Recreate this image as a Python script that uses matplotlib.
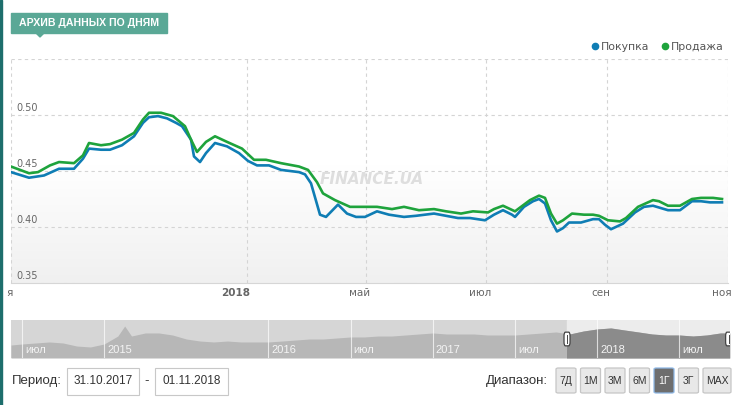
import numpy as np
import matplotlib
matplotlib.use("Agg")
import matplotlib.pyplot as plt
from matplotlib.lines import Line2D
from matplotlib.patches import Rectangle, Polygon, FancyBboxPatch
from matplotlib.colors import LinearSegmentedColormap
from matplotlib.transforms import blended_transform_factory

W, H = 736, 405
BLUE = "#0f7db4"
GREEN = "#1ea33c"
TEAL = "#5aa896"
UI_FONT = ["Liberation Sans", "DejaVu Sans"]

# ordinal point index (trading-day like) and rates, 31.10.2017 - 01.11.2018
buy_x = [0, 6, 11, 16, 21, 24, 26, 30, 33, 37, 41, 44, 46, 49, 52, 55, 57, 60, 61, 63,
         65, 68, 72, 76, 79, 82, 86, 90, 96, 98, 100, 103, 105, 109, 112, 115, 118, 122,
         126, 131, 135, 141, 145, 149, 153, 158, 161, 164, 167, 168, 171, 174, 176, 178,
         180, 182, 184, 186, 190, 194, 196, 198, 200, 204, 208, 211, 214, 219, 223, 227,
         230, 233, 237]
buy = [0.449, 0.444, 0.446, 0.452, 0.452, 0.461, 0.470, 0.469, 0.469, 0.473, 0.481, 0.493,
       0.498, 0.499, 0.497, 0.493, 0.490, 0.478, 0.463, 0.458, 0.466, 0.475, 0.472, 0.466,
       0.459, 0.455, 0.455, 0.451, 0.449, 0.447, 0.439, 0.411, 0.409, 0.420, 0.412, 0.409,
       0.409, 0.414, 0.411, 0.409, 0.410, 0.412, 0.410, 0.408, 0.408, 0.406, 0.411, 0.415,
       0.411, 0.409, 0.418, 0.423, 0.425, 0.421, 0.406, 0.396, 0.399, 0.404, 0.404, 0.407,
       0.407, 0.402, 0.398, 0.403, 0.413, 0.418, 0.419, 0.415, 0.415, 0.423, 0.423, 0.422,
       0.422]
sell_x = [0, 6, 9, 13, 16, 21, 24, 26, 30, 33, 37, 41, 44, 46, 50, 54, 58, 60, 62, 65, 68,
          72, 77, 81, 85, 90, 96, 99, 102, 104, 108, 113, 117, 122, 127, 131, 136, 141, 145,
          150, 154, 159, 161, 164, 168, 170, 173, 176, 178, 180, 182, 184, 187, 191, 194, 196,
          199, 203, 205, 209, 214, 216, 219, 223, 227, 230, 234, 237]
sell = [0.454, 0.448, 0.449, 0.455, 0.458, 0.457, 0.464, 0.475, 0.473, 0.474, 0.478, 0.484,
        0.496, 0.502, 0.502, 0.499, 0.490, 0.478, 0.467, 0.476, 0.481, 0.476, 0.470, 0.460,
        0.460, 0.457, 0.454, 0.451, 0.440, 0.430, 0.424, 0.418, 0.418, 0.418, 0.416, 0.418,
        0.415, 0.416, 0.414, 0.412, 0.414, 0.413, 0.416, 0.419, 0.414, 0.418, 0.424, 0.428,
        0.426, 0.412, 0.403, 0.406, 0.412, 0.411, 0.411, 0.410, 0.406, 0.405, 0.408, 0.418,
        0.424, 0.423, 0.419, 0.419, 0.425, 0.426, 0.426, 0.425]

x_ticks = [0, 78.7, 118.3, 158.3, 198.7, 239]
x_labels = ["я", "2018", "май", "июл", "сен", "ноя"]
y_ticks = [0.35, 0.40, 0.45, 0.50]
y_grid = [0.40, 0.45, 0.50, 0.55]

# navigator: months since 01.07.2014
nav_m = [-0.8, 0, 1, 2, 3, 4, 5, 6, 7, 7.5, 8, 9, 10, 11, 12, 13, 14, 15, 16, 17, 18, 19,
         20, 21, 22, 23, 24, 25, 26, 27, 28, 29, 30, 31, 32, 33, 34, 35, 36, 37, 38, 39, 40,
         41, 42, 43, 44, 45, 46, 47, 48, 49, 50, 51, 51.7]
nav_v = [0.205, 0.221, 0.237, 0.253, 0.237, 0.189, 0.174, 0.221, 0.347, 0.505, 0.347, 0.395,
         0.395, 0.363, 0.300, 0.268, 0.253, 0.268, 0.253, 0.253, 0.253, 0.268, 0.284, 0.300,
         0.300, 0.316, 0.332, 0.332, 0.347, 0.347, 0.363, 0.379, 0.395, 0.379, 0.379, 0.379,
         0.363, 0.363, 0.363, 0.379, 0.395, 0.411, 0.379, 0.426, 0.458, 0.474, 0.442, 0.411,
         0.379, 0.363, 0.363, 0.347, 0.363, 0.395, 0.395]
nav_ticks = [0, 6, 18, 24, 30, 36, 42, 48]
nav_labels = ["июл", "2015", "2016", "июл", "2017", "июл", "2018", "июл"]
sel_start, sel_end = 39.8, 51.6

period = ["31.10.2017", "01.11.2018"]
ranges = ["7Д", "1М", "3М", "6М", "1Г", "3Г", "MAX"]
active_range = "1Г"


def fx(px):
    return px / W


def fy(py):
    return 1 - py / H


fig = plt.figure(figsize=(W / 100, H / 100), dpi=100)
fig.patch.set_facecolor("white")

# left teal edge and header tab
fig.patches.append(Rectangle((0, 0), fx(2), 1, transform=fig.transFigure,
                             color="#1d6e6c", zorder=5))
fig.patches.append(Rectangle((fx(11), fy(33)), fx(156), fy(13) - fy(33),
                             transform=fig.transFigure, color=TEAL, zorder=5))
fig.patches.append(Polygon([(fx(36), fy(33)), (fx(44), fy(33)), (fx(40), fy(37))],
                           closed=True, transform=fig.transFigure, color=TEAL, zorder=5))
fig.text(fx(89), fy(23.5), "АРХИВ ДАННЫХ ПО ДНЯМ", ha="center", va="center", color="white",
         fontsize=7.6, fontweight="bold", family=UI_FONT, zorder=6)

# main chart
ax = fig.add_axes([fx(11), fy(283), fx(728) - fx(11), fy(59) - fy(283)])
ax.set_xlim(0, 239)
ax.set_ylim(0.35, 0.55)
for s in ["top", "left", "right"]:
    ax.spines[s].set_visible(False)
ax.spines["bottom"].set_color("#d6d6d6")
ax.set_xticks([])
ax.set_yticks([])

yy = np.linspace(0.55, 0.35, 200)
shade = np.clip((0.455 - yy) / 0.105, 0, 1)[:, None]
cmap = LinearSegmentedColormap.from_list("bg", ["#ffffff", "#f0f0f0"])
ax.imshow(shade, extent=[0, 239, 0.35, 0.55], aspect="auto", cmap=cmap,
          vmin=0, vmax=1, zorder=0)

for v in y_grid:
    ax.axhline(v, color="#d4d4d4", lw=0.8, dashes=(3, 3), zorder=1)
for t in x_ticks:
    ax.axvline(t, color="#d4d4d4", lw=0.8, dashes=(3, 3), zorder=1)

for v in y_ticks:
    ax.annotate(f"{v:.2f}", xy=(0, v), xycoords=("axes fraction", "data"),
                xytext=(5, 7), textcoords="offset pixels", ha="left", va="center",
                fontsize=7, color="#666666")
for t, lab in zip(x_ticks, x_labels):
    off = -11 if lab == "2018" else (-1 if t == 0 else -6)
    ax.annotate(lab, xy=(t, 0), xycoords=("data", "axes fraction"),
                xytext=(off, -10), textcoords="offset pixels", ha="center", va="center",
                fontsize=7.5, color="#666666",
                fontweight="bold" if lab == "2018" else "normal", annotation_clip=False)

ax.text(0.503, 0.462, "FINANCE.UA", transform=ax.transAxes, ha="center", va="center",
        fontsize=11, fontweight="bold", style="italic", color="#dedede", zorder=2)

ax.plot(buy_x, buy, color=BLUE, lw=1.9, solid_joinstyle="round", zorder=3)
ax.plot(sell_x, sell, color=GREEN, lw=1.9, solid_joinstyle="round", zorder=3)

handles = [Line2D([], [], ls="", marker="o", markersize=4.5, color=BLUE),
           Line2D([], [], ls="", marker="o", markersize=4.5, color=GREEN)]
leg = fig.legend(handles, ["Покупка", "Продажа"], loc="center right",
                 bbox_to_anchor=(fx(724), fy(47)), ncol=2, frameon=False, fontsize=7.8,
                 handletextpad=0.2, columnspacing=1.0, handlelength=0.8,
                 borderpad=0, borderaxespad=0)
for txt in leg.get_texts():
    txt.set_color("#555555")

# navigator
nav = fig.add_axes([fx(11), fy(358), fx(730) - fx(11), fy(320) - fy(358)])
nav.set_xlim(-0.8, 51.7)
nav.set_ylim(0, 0.6)
nav.set_facecolor("#d6d6d6")
for s in nav.spines.values():
    s.set_visible(False)
nav.set_xticks([])
nav.set_yticks([])
nav.axvspan(sel_start, sel_end, color="#ececec", zorder=0)
nav.fill_between(nav_m, nav_v, color="#b7b7b7", lw=0, zorder=1)
dark = nav.fill_between(nav_m, nav_v, color="#8b8b8b", lw=0, zorder=2)
bt = blended_transform_factory(nav.transData, nav.transAxes)
dark.set_clip_path(Rectangle((sel_start, 0), sel_end - sel_start, 1, transform=bt))
for t, lab in zip(nav_ticks, nav_labels):
    nav.axvline(t, color="white", lw=0.8, alpha=0.7, zorder=3)
    nav.annotate(lab, xy=(t, 0.22), xycoords=bt, xytext=(3, 0), textcoords="offset pixels",
                 ha="left", va="center", fontsize=8, color="#f4f4f4", family=UI_FONT,
                 zorder=4)
for h in (sel_start, sel_end):
    nav.add_patch(FancyBboxPatch((h - 0.22, 0.32), 0.44, 0.36, transform=bt,
                                 boxstyle="round,pad=0,rounding_size=0.1",
                                 fc="white", ec="#444444", lw=0.9, zorder=5))
    nav.plot([h, h], [0.4, 0.6], transform=bt, color="#444444", lw=0.7, zorder=6)

# controls row
fig.text(fx(12), fy(381), "Период:", ha="left", va="center", fontsize=9.5,
         color="#333333", family=UI_FONT)
for (x0, x1), d in zip([(67, 139), (155, 228)], period):
    fig.patches.append(Rectangle((fx(x0), fy(395)), fx(x1 - x0), fy(368) - fy(395),
                                 transform=fig.transFigure, fc="white", ec="#c8c8c8",
                                 lw=0.8))
    fig.text(fx((x0 + x1) / 2), fy(381), d, ha="center", va="center", fontsize=8.5,
             color="#333333", family=UI_FONT)
fig.text(fx(147), fy(381), "-", ha="center", va="center", fontsize=9.5, color="#333333",
         family=UI_FONT)
fig.text(fx(548), fy(381), "Диапазон:", ha="right", va="center", fontsize=9.5,
         color="#333333", family=UI_FONT)
x0 = 556
for r in ranges:
    w = 28 if r == "MAX" else 20
    on = r == active_range
    fig.patches.append(FancyBboxPatch((fx(x0), fy(393)), fx(w), fy(368) - fy(393),
                                      boxstyle="round,pad=0,rounding_size=0.003",
                                      transform=fig.transFigure,
                                      fc="#6e6e6e" if on else "#e8e8e8",
                                      ec="#8fb8e6" if on else "#c6c6c6", lw=0.9))
    fig.text(fx(x0 + w / 2), fy(381), r, ha="center", va="center", fontsize=7.5,
             color="white" if on else "#333333", family=UI_FONT)
    x0 += w + 4.5

fig.savefig("out.png", dpi=100)
